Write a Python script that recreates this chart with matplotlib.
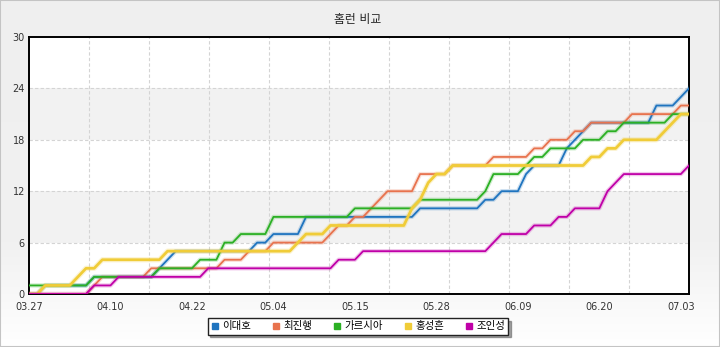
import matplotlib
matplotlib.use("Agg")
import numpy as np
import matplotlib.pyplot as plt
import matplotlib.patheffects as pe
from matplotlib.colors import LinearSegmentedColormap
from matplotlib.lines import Line2D
from matplotlib.patches import Rectangle

plt.rcParams['font.family'] = ['DejaVu Sans', 'Noto Sans CJK KR']

# date labels shown under every 10th game
tick_labels = ['03.27', '04.10', '04.22', '05.04', '05.15',
               '05.28', '06.09', '06.20', '07.03']
players = ['이대호', '최진행', '가르시아', '홍성흔', '조인성']
colors = ['#1f74bf', '#e8734e', '#2bb024', '#f0cc38', '#c000a8']

# cumulative home runs, one value per game
lee = [0, 0, 1, 1, 1, 1, 1, 1, 2, 2, 2, 2, 2, 2, 2, 2, 3, 4, 5, 5,
       5, 5, 5, 5, 5, 5, 5, 5, 6, 6, 7, 7, 7, 7, 9, 9, 9, 9, 9, 9,
       9, 9, 9, 9, 9, 9, 9, 9, 10, 10, 10, 10, 10, 10, 10, 10, 11, 11, 12, 12,
       12, 14, 15, 15, 15, 15, 17, 18, 19, 20, 20, 20, 20, 20, 20, 20, 20, 22, 22, 22,
       23, 24]
choi = [0, 0, 0, 0, 0, 0, 0, 0, 1, 2, 2, 2, 2, 2, 2, 3, 3, 3, 3, 3,
        3, 3, 3, 3, 4, 4, 4, 5, 5, 5, 6, 6, 6, 6, 6, 6, 6, 7, 8, 8,
        9, 9, 10, 11, 12, 12, 12, 12, 14, 14, 14, 14, 15, 15, 15, 15, 15, 16, 16, 16,
        16, 16, 17, 17, 18, 18, 18, 19, 19, 20, 20, 20, 20, 20, 21, 21, 21, 21, 21, 21,
        22, 22]
garcia = [1, 1, 1, 1, 1, 1, 1, 1, 2, 2, 2, 2, 2, 2, 2, 2, 3, 3, 3, 3,
          3, 4, 4, 4, 6, 6, 7, 7, 7, 7, 9, 9, 9, 9, 9, 9, 9, 9, 9, 9,
          10, 10, 10, 10, 10, 10, 10, 10, 11, 11, 11, 11, 11, 11, 11, 11, 12, 14, 14, 14,
          14, 15, 16, 16, 17, 17, 17, 17, 18, 18, 18, 19, 19, 20, 20, 20, 20, 20, 20, 21,
          21, 21]
hong = [0, 0, 1, 1, 1, 1, 2, 3, 3, 4, 4, 4, 4, 4, 4, 4, 4, 5, 5, 5,
        5, 5, 5, 5, 5, 5, 5, 5, 5, 5, 5, 5, 5, 6, 7, 7, 7, 8, 8, 8,
        8, 8, 8, 8, 8, 8, 8, 10, 11, 13, 14, 14, 15, 15, 15, 15, 15, 15, 15, 15,
        15, 15, 15, 15, 15, 15, 15, 15, 15, 16, 16, 17, 17, 18, 18, 18, 18, 18, 19, 20,
        21, 21]
jo = [0, 0, 0, 0, 0, 0, 0, 0, 1, 1, 1, 2, 2, 2, 2, 2, 2, 2, 2, 2,
      2, 2, 3, 3, 3, 3, 3, 3, 3, 3, 3, 3, 3, 3, 3, 3, 3, 3, 4, 4,
      4, 5, 5, 5, 5, 5, 5, 5, 5, 5, 5, 5, 5, 5, 5, 5, 5, 6, 7, 7,
      7, 7, 8, 8, 8, 9, 9, 10, 10, 10, 10, 12, 13, 14, 14, 14, 14, 14, 14, 14,
      14, 15]
series = [lee, choi, garcia, hong, jo]

fig = plt.figure(figsize=(7.2, 3.47), dpi=100)

# soft grey-to-white page background with a thin frame
bg = fig.add_axes([0, 0, 1, 1], zorder=-10)
grad = np.linspace(0, 1, 256).reshape(-1, 1)
cmap = LinearSegmentedColormap.from_list(
    'page', [(0, '#ffffff'), (0.3, '#f1f1f1'), (1, '#efefef')])
bg.imshow(grad, aspect='auto', cmap=cmap, origin='lower', extent=[0, 1, 0, 1])
bg.axis('off')
fig.patches.append(Rectangle((0, 0), 1, 1, transform=fig.transFigure,
                             fill=False, edgecolor='#c4c4c4', lw=1.5))

ax = fig.add_axes([29 / 720, 1 - 294 / 347, 660 / 720, 257 / 347])
ax.set_facecolor('white')

# alternating bands and dashed grid
for lo, hi in [(6, 12), (18, 24)]:
    ax.axhspan(lo, hi, color='#f2f2f2', lw=0, zorder=0)
for y in [6, 12, 18, 24]:
    ax.axhline(y, color='#d4d4d4', lw=0.8, ls=(0, (3, 2)), zorder=1)
for k in range(1, 11):
    ax.axvline(k / 11 * 81, color='#d4d4d4', lw=0.8, ls=(0, (3, 2)), zorder=1)

x = np.arange(len(lee))
for vals, color in zip(series, colors):
    lw = 2.0 if color == '#f0cc38' else 1.3
    ax.plot(x, vals, color=color, lw=lw, zorder=3,
            solid_joinstyle='round',
            path_effects=[pe.Stroke(linewidth=lw + 1.8, foreground=color, alpha=0.22),
                          pe.Normal()])

ax.set_xlim(0, 81)
ax.set_ylim(0, 30)
ax.set_yticks(range(0, 31, 6))
ax.set_xticks(range(0, 81, 10))
ax.set_xticklabels(tick_labels)
ax.tick_params(length=0, labelsize=7, colors='#333333')
ax.tick_params(axis='x', pad=6)
ax.tick_params(axis='y', pad=3)
for s in ax.spines.values():
    s.set_color('black')
    s.set_linewidth(1.4)

fig.text(358 / 720, 1 - 20 / 347, '홈런 비교', ha='center', va='center',
         fontsize=8.5, color='#222222')

handles = [Line2D([], [], marker='s', ls='none', markersize=5,
                  markerfacecolor=c, markeredgecolor=c) for c in colors]
leg = fig.legend(handles, players, loc='center',
                 bbox_to_anchor=(358 / 720, 1 - 326.5 / 347), ncol=5,
                 fontsize=7.5, frameon=True, fancybox=False, shadow=True,
                 handlelength=0.8, handletextpad=0.3, columnspacing=2.0,
                 borderpad=0.3)
leg.get_frame().set_edgecolor('#222222')
leg.get_frame().set_linewidth(1.0)

fig.savefig('out.png', dpi=100)
